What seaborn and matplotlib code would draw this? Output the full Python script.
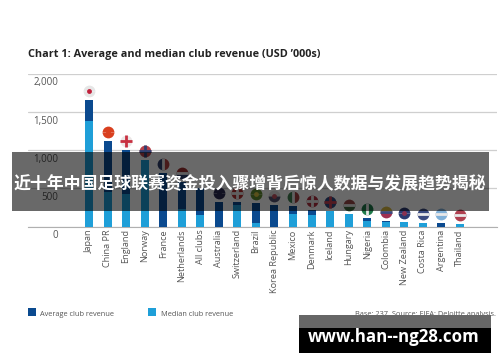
#importing packages
import matplotlib.pyplot as plt
import pandas as pd
import seaborn as sns
from matplotlib.patches import Rectangle
from matplotlib.transforms import ScaledTranslation

# values (USD '000s)
countries = ["Japan", "China PR", "England", "Norway", "France", "Netherlands", "All clubs",
             "Australia", "Switzerland", "Brazil", "Korea Republic", "Mexico", "Denmark",
             "Iceland", "Hungary", "Nigeria", "Colombia", "New Zealand", "Costa Rica",
             "Argentina", "Thailand"]
average = [1665, 1115, 1005, 875, 700, 590, 505, 325, 325, 310, 285, 270, 215, 205, 165, 110, 70, 65, 45, 40, 35]
median = [1380, 450, 430, 875, 0, 230, 150, 0, 280, 50, 0, 165, 150, 200, 165, 75, 60, 55, 45, 0, 35]
y_ticks = [0, 500, 1000, 1500, 2000]
y_labels = ["0", "500", "1,000", "1,500", "2,000"]
# flags: two halves, how they split, then one mark across the middle
flag_a = ["#e6e6e6", "#d9401f", "#ece6e6", "#b5404a", "#2f3f6f", "#9c3030", "#ffffff", "#2a2a50",
          "#b03030", "#5f8a30", "#e0e0e0", "#3f7f50", "#b03040", "#2f4a80", "#9a4a4a", "#1f7a4a",
          "#d8b840", "#2a3a70", "#3a4a80", "#80b0d8", "#b04050"]
flag_b = ["#e6e6e6", "#d9401f", "#ece6e6", "#b5404a", "#b04040", "#2f3f6f", "#ffffff", "#2a2a50",
          "#b03030", "#5f8a30", "#505070", "#a04040", "#b03040", "#2f4a80", "#3f6a40", "#1f7a4a",
          "#a03050", "#2a3a70", "#3a4a80", "#80b0d8", "#b04050"]
flag_fill = ["top", "top", "top", "top", "left", "top", "top", "top", "top", "top", "top", "left",
             "top", "top", "top", "left", "top", "top", "top", "top", "top"]
flag_mark = ["o", "o", "+", "+", "|", "_", "o", "o", "+", "o", "o", "|", "+", "+", "_", "|", "_", "o", "_", "_", "_"]
flag_mid = ["#c0203a", "#d9401f", "#c83040", "#2f3f70", "#e8e8e8", "#e8e8e8", "#ffffff", "#2a2a50",
            "#e8e8e8", "#d8c040", "#c05060", "#e8e8e8", "#e8e8e8", "#c84050", "#e8e8e8", "#e8e8e8",
            "#3a4a80", "#8a3050", "#e8e8e8", "#e8e8e8", "#e8e8e8"]
flag_gap = 118

df = pd.DataFrame({"Country": countries, "Average": average, "Median": median})
sns.set_style("white")
plt.rcParams["font.family"] = ["Open Sans", "DejaVu Sans"]

fig = plt.figure(figsize=(5, 3.62), dpi=100)
ax = fig.add_axes([28 / 500, 1 - 226.5 / 362, 469 / 500, 152.5 / 362])

# average behind, median in front
sns.barplot(data=df, x="Country", y="Average", color="#0b4a8f", saturation=1, width=0.43, linewidth=0, ax=ax, zorder=3)
sns.barplot(data=df, x="Country", y="Median", color="#1f9fd8", saturation=1, width=0.43, linewidth=0, ax=ax, zorder=4)

# round flags above the bars
for i, v in enumerate(average):
    ax.plot(i, v + flag_gap, "o", ms=8.5, fillstyle=flag_fill[i], markerfacecolor=flag_a[i],
            markerfacecoloralt=flag_b[i], markeredgewidth=0, clip_on=False, zorder=5)
    if flag_mark[i] == "o":
        ax.plot(i, v + flag_gap, "o", ms=3.5, color=flag_mid[i], markeredgewidth=0, clip_on=False, zorder=6)
    else:
        ax.plot(i, v + flag_gap, flag_mark[i], ms=8, color=flag_mid[i], markeredgewidth=2, clip_on=False, zorder=6)

ax.set_xlim(-3.288, 22.0)
ax.set_ylim(0, 2000)
ax.set_yticks(y_ticks)
ax.set_yticklabels(y_labels, fontsize=7, color="#555555")
ax.yaxis.set_tick_params(length=0)
label_shift = ScaledTranslation(0, -7.5 / 100, fig.dpi_scale_trans)
for lab in ax.get_yticklabels():
    lab.set_ha("right")
    lab.set_x(0.064)
    lab.set_transform(ax.get_yaxis_transform() + label_shift)
ax.tick_params(axis="x", length=0, pad=2, labelsize=6.6, labelcolor="#555555")
ax.set_xticks(range(len(countries)))
ax.set_xticklabels(countries, rotation=90)
ax.set_xlabel("")
ax.set_ylabel("")
ax.grid(axis="y", color="#cfcfcf", lw=0.9, zorder=0)
ax.set_axisbelow(True)
sns.despine(ax=ax, left=True, top=True, right=True)
ax.spines["bottom"].set_color("#b0b0b0")

fig.text(28 / 500, 1 - 54 / 362, "Chart 1: Average and median club revenue (USD \u2019000s)",
         fontsize=7.85, fontweight="bold", color="#222222", va="center")

# legend and source line
fig.patches.append(Rectangle((28 / 500, 1 - 316 / 362), 8 / 500, 8 / 362, transform=fig.transFigure, color="#0b4a8f", lw=0))
fig.patches.append(Rectangle((148 / 500, 1 - 316 / 362), 8 / 500, 8 / 362, transform=fig.transFigure, color="#1f9fd8", lw=0))
fig.text(40 / 500, 1 - 314 / 362, "Average club revenue", fontsize=5.3, color="#555555", va="center")
fig.text(161 / 500, 1 - 314 / 362, "Median club revenue", fontsize=5.3, color="#555555", va="center")
fig.text(496 / 500, 1 - 314 / 362, "Base: 237. Source: FIFA; Deloitte analysis.", fontsize=5.3,
         color="#555555", va="center", ha="right")

# headline band over the chart
fig.patches.append(Rectangle((12 / 500, 1 - 211 / 362), 477 / 500, 59 / 362, transform=fig.transFigure,
                             color="black", alpha=0.59, lw=0, zorder=10))
fig.text(250 / 500, 1 - 184 / 362, "近十年中国足球联赛资金投入骤增背后惊人数据与发展趋势揭秘", fontsize=12.2,
         fontweight="bold", color="white", ha="center", va="center", zorder=11,
         family=["Noto Sans CJK SC", "DejaVu Sans"])

# site badge, bottom right
fig.patches.append(Rectangle((299 / 500, 1 - 328 / 362), 192 / 500, 13 / 362, transform=fig.transFigure,
                             color="#666666", lw=0, zorder=10))
fig.patches.append(Rectangle((299 / 500, 1 - 353 / 362), 192 / 500, 25 / 362, transform=fig.transFigure,
                             color="black", lw=0, zorder=10))
fig.text(394 / 500, 1 - 337 / 362, "www.han--ng28.com", fontsize=12.2, fontweight="bold", color="white",
         ha="center", va="center", zorder=11)

fig.savefig("out.png", dpi=100)
